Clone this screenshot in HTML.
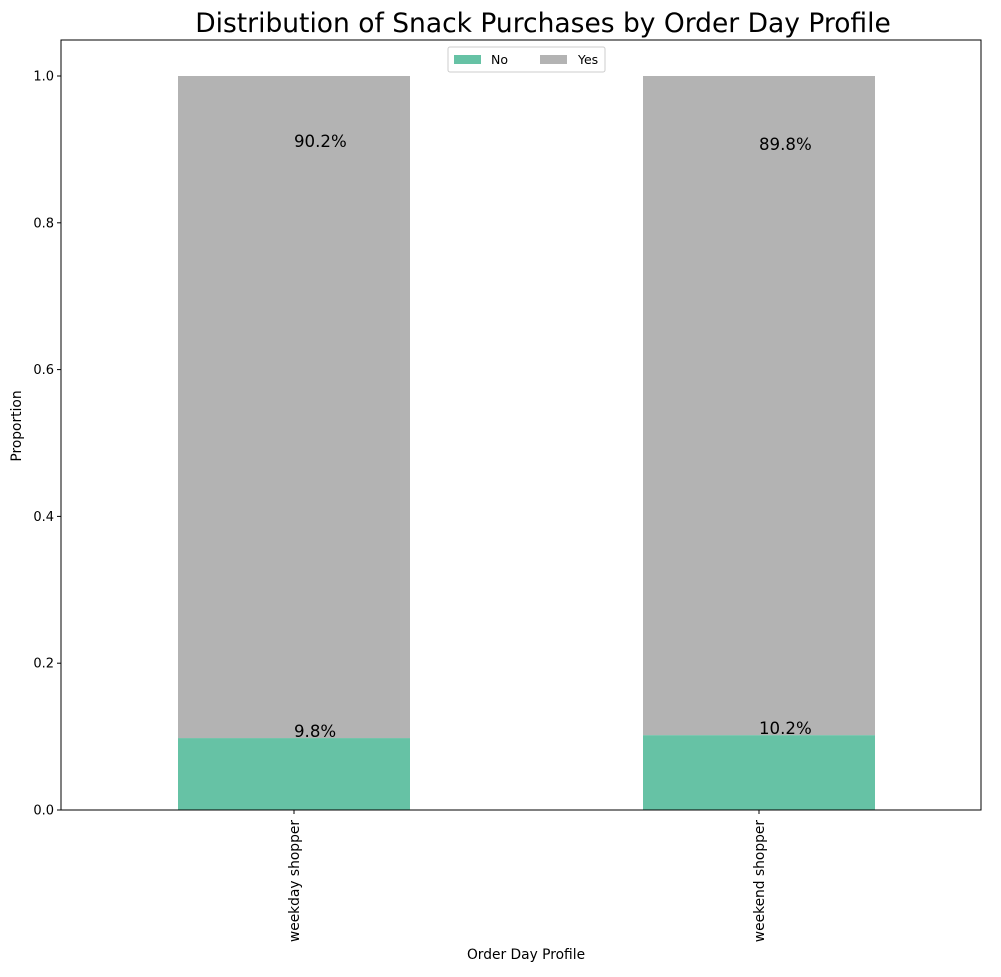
<!DOCTYPE html>
<html><head><meta charset="utf-8"><style>
body{margin:0;background:#fff;font-family:"Liberation Sans","DejaVu Sans",sans-serif;}
svg text{font-family:"DejaVu Sans","Liberation Sans",sans-serif;}
</style></head><body>
<svg id="chart" width="1001" height="972">
<text x="543" y="32" text-anchor="middle" font-size="26.5">Distribution of Snack Purchases by Order Day Profile</text>
<g id="plot"></g>
<rect x="61" y="40" width="920" height="770" fill="none" stroke="#000" stroke-width="1"/>
<text x="21" y="426" font-size="13.8" text-anchor="middle" transform="rotate(-90 21 426)">Proportion</text>
<text x="526" y="959" font-size="13.8" text-anchor="middle">Order Day Profile</text>
<g>
<rect x="448" y="47" width="157" height="25" rx="2" fill="#fff" stroke="#ccc"/>
<rect x="454" y="55" width="27" height="9" fill="#66c2a5"/>
<text x="491" y="64" font-size="12.5">No</text>
<rect x="540" y="55" width="27" height="9" fill="#b3b3b3"/>
<text x="578" y="64" font-size="12.5">Yes</text>
</g>
</svg>
<script>
const categories=["weekday shopper","weekend shopper"];
const noValues=[0.098,0.102];
const yesValues=[0.902,0.898];
const yTicks=[0,0.2,0.4,0.6,0.8,1.0];
const NS="http://www.w3.org/2000/svg";
const g=document.getElementById("plot");
const y0=810,yScale=734;
function yPos(v){return y0-v*yScale;}
function xCenter(i){return 294+i*465;}
const barW=232;
function mk(tag,attrs){const e=document.createElementNS(NS,tag);for(const k in attrs)e.setAttribute(k,attrs[k]);g.appendChild(e);return e;}
yTicks.forEach(t=>{
 const l=mk("line",{x1:57,x2:61,y1:yPos(t),y2:yPos(t),stroke:"#000"});
 
 
 const tx=mk("text",{x:54,y:yPos(t)+4.5,"font-size":13,"text-anchor":"end"});
 tx.textContent=t.toFixed(1);
 
 
});
categories.forEach((c,i)=>{
 const cx=xCenter(i);
 const r1=mk("rect",{x:cx-barW/2,y:yPos(noValues[i]),width:barW,height:noValues[i]*yScale,fill:"#66c2a5"});
 
 
 const r2=mk("rect",{x:cx-barW/2,y:yPos(noValues[i]+yesValues[i]),width:barW,height:yesValues[i]*yScale,fill:"#b3b3b3"});
 
 
 const l1=mk("text",{x:cx,y:yPos(noValues[i])-1,"font-size":16.6});
 l1.textContent=(noValues[i]*100).toFixed(1)+"%";
 
 
 const l2=mk("text",{x:cx,y:yPos(yesValues[i])-1,"font-size":16.6});
 l2.textContent=(yesValues[i]*100).toFixed(1)+"%";
 
 
 const tk=mk("line",{x1:cx,x2:cx,y1:810,y2:814,stroke:"#000"});
 
 
 const xl=mk("text",{x:cx+5,y:820,"font-size":13.8,"text-anchor":"end",transform:`rotate(-90 ${cx+5} 820)`});
 xl.textContent=c;
 
 
});
</script>
</body></html>
